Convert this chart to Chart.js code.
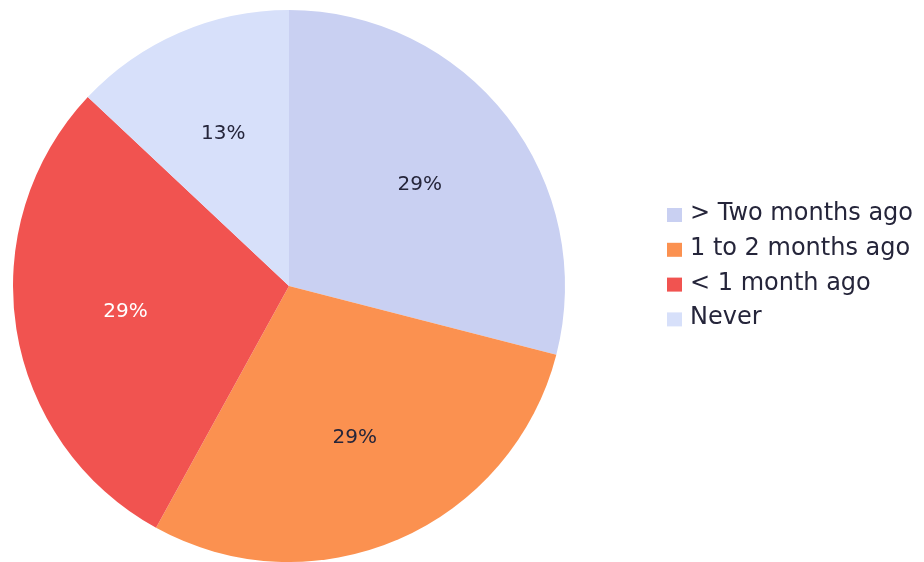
<!DOCTYPE html>
<html>
<head>
<meta charset="utf-8">
<script src="https://cdn.jsdelivr.net/npm/chart.js@4/dist/chart.umd.min.js"></script>
<style>
  html, body { margin: 0; padding: 0; background: #fff; }
  #wrap { width: 924px; height: 562px; }
</style>
</head>
<body>
<div id="wrap"><canvas id="chart"></canvas></div>
<script>
// last contact
const labels = ['> Two months ago', '1 to 2 months ago', '< 1 month ago', 'Never'];
const shares = [29, 29, 29, 13];
const colors = ['#c9d0f2', '#fb9150', '#f15350', '#d7e0fa'];
const labelColors = ['#25253a', '#25253a', '#ffffff', '#25253a'];

const FONT = '"DejaVu Sans", sans-serif';
const TEXT = '#25253a';

// percent labels inside each slice
const sliceLabels = {
  id: 'sliceLabels',
  afterDatasetsDraw(chart) {
    const {ctx} = chart;
    const meta = chart.getDatasetMeta(0);
    ctx.save();
    ctx.font = '20px ' + FONT;
    ctx.textAlign = 'center';
    ctx.textBaseline = 'middle';
    meta.data.forEach((arc, i) => {
      const {x, y, startAngle, endAngle, outerRadius} = arc.getProps(['x', 'y', 'startAngle', 'endAngle', 'outerRadius'], true);
      const mid = (startAngle + endAngle) / 2;
      const r = outerRadius * 0.6;
      ctx.fillStyle = labelColors[i];
      ctx.fillText(shares[i] + '%', x + Math.cos(mid) * r, y + Math.sin(mid) * r);
    });
    ctx.restore();
  }
};

// legend column to the right of the pie
const sideLegend = {
  id: 'sideLegend',
  afterDraw(chart) {
    const {ctx} = chart;
    const left = 667, firstRow = 215, rowGap = 34.8;
    ctx.save();
    ctx.font = '24px ' + FONT;
    ctx.textAlign = 'left';
    ctx.textBaseline = 'alphabetic';
    labels.forEach((text, i) => {
      const cy = firstRow + i * rowGap;
      ctx.fillStyle = colors[i];
      ctx.fillRect(left, cy - 7, 15, 14);
      ctx.fillStyle = TEXT;
      ctx.fillText(text, left + 23, cy + 5);
    });
    ctx.restore();
  }
};

new Chart(document.getElementById('chart'), {
  type: 'pie',
  data: {
    labels: labels,
    datasets: [{
      data: shares,
      backgroundColor: colors,
      borderWidth: 0
    }]
  },
  options: {
    responsive: true,
    maintainAspectRatio: false,
    animation: false,
    layout: {padding: {top: 10, left: 0, right: 346, bottom: 0}},
    plugins: {
      tooltip: {enabled: false},
      legend: {display: false}
    }
  },
  plugins: [sliceLabels, sideLegend]
});
</script>
</body>
</html>
